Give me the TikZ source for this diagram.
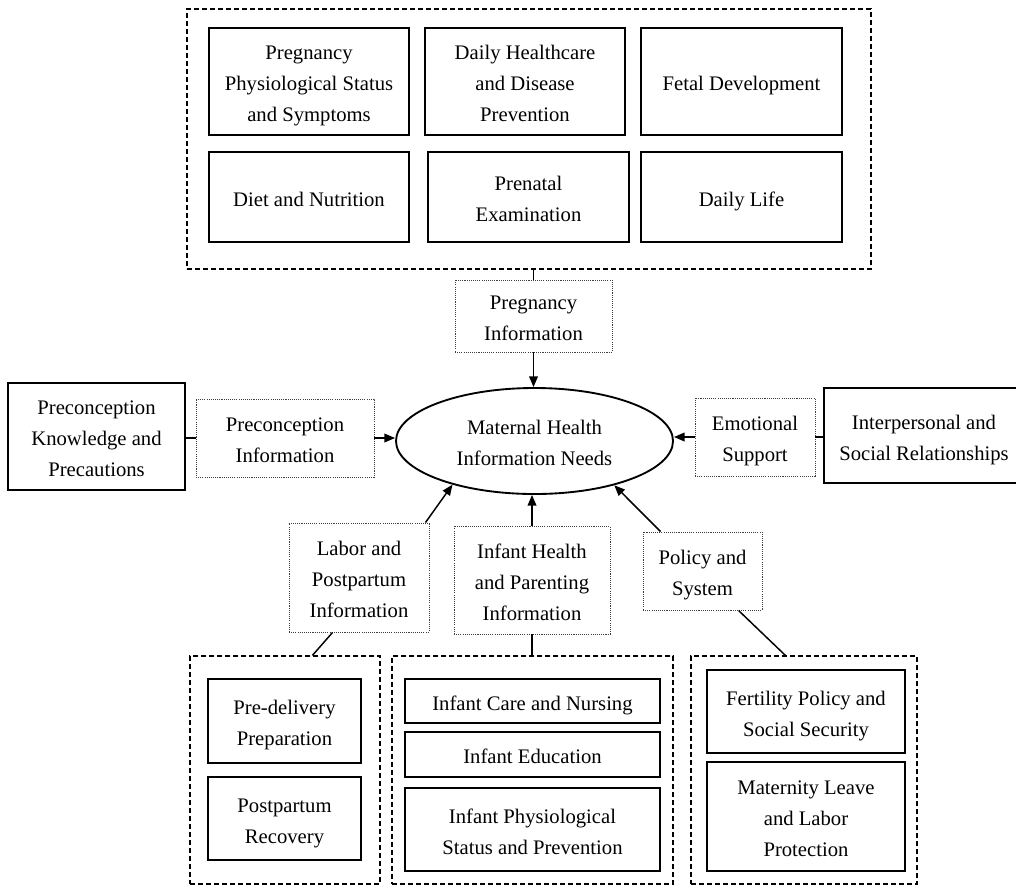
\documentclass[tikz,border=0pt]{standalone}
\usepackage{fontspec}
\setmainfont{Liberation Serif}
\usetikzlibrary{shapes.geometric,arrows.meta,calc}
\newcommand{\fs}{\rule{0pt}{1.15em}}
\begin{document}
\begin{tikzpicture}[x=0.75pt,y=-0.75pt,
  every node/.style={font=\fontsize{15.5pt}{23.25pt}\selectfont, align=center, inner sep=0pt,
    execute at begin node={\rule{0pt}{1.15em}},
    execute at end node={\rule[-0.25em]{0pt}{0.25em}}},
  sz/.style 2 args={minimum width=#1*0.75pt, minimum height=#2*0.75pt},
  solidbox/.style={draw, line width=1.1pt},
  grpbox/.style={draw, line width=0.9pt, dash pattern=on 4pt off 2pt},
  infobox/.style={draw=black!75, line width=0.7pt, dash pattern=on 0.8pt off 0.8pt},
  link/.style={line width=1.1pt},
  arr/.style={line width=1.1pt, -{Triangle[length=8pt,width=6.5pt]}}]
\useasboundingbox (0,0) rectangle (1016,886);

% top group
\node[grpbox, sz={684}{260}] (gtop) at (529,139) {};
\node[solidbox, sz={200}{107}] (b1) at (309,81.5) {\fs Pregnancy\\Physiological Status\\and Symptoms};
\node[solidbox, sz={200}{107}] (b2) at (525,81.5) {\fs Daily Healthcare\\and Disease\\Prevention};
\node[solidbox, sz={201}{107}] (b3) at (741.5,81.5) {Fetal Development};
\node[solidbox, sz={200}{90}] (b4) at (309,197) {Diet and Nutrition};
\node[solidbox, sz={201}{90}] (b5) at (528.5,197) {\fs Prenatal\\Examination};
\node[solidbox, sz={201}{90}] (b6) at (741.5,197) {Daily Life};

% centre
\node[infobox, sz={157}{72}] (pinf) at (533.5,316) {\fs Pregnancy\\Information};
\node[draw, ellipse, line width=1.4pt, sz={277}{106}] (mh) at (534.5,441) {\fs Maternal Health\\Information Needs};

% left / right
\node[solidbox, sz={177}{107}] (pk) at (96.5,436.5) {\fs Preconception\\Knowledge and\\Precautions};
\node[infobox, sz={178}{78}] (pci) at (285,438) {\fs Preconception\\Information};
\node[infobox, sz={120}{78}] (es) at (755,437) {\fs Emotional\\Support};
\node[solidbox, sz={200}{95}] (ir) at (924,435.5) {\fs Interpersonal and\\Social Relationships};

% lower info
\node[infobox, sz={140}{109}] (lp) at (359,577.5) {\fs Labor and\\Postpartum\\Information};
\node[infobox, sz={156}{108}] (ih) at (532,580) {\fs Infant Health\\and Parenting\\Information};
\node[infobox, sz={119}{78}] (ps) at (702.5,571) {\fs Policy and\\System};

% bottom groups
\node[grpbox, sz={190}{228}] (gl) at (285,770) {};
\node[grpbox, sz={281}{228}] (gm) at (532.5,770) {};
\node[grpbox, sz={226}{228}] (gr) at (804,770) {};
\node[solidbox, sz={153}{84}] (pd) at (284.5,721) {\fs Pre-delivery\\Preparation};
\node[solidbox, sz={153}{83}] (pr) at (284.5,818.5) {\fs Postpartum\\Recovery};
\node[solidbox, sz={255}{44}] (ic) at (532.5,701) {Infant Care and Nursing};
\node[solidbox, sz={255}{45}] (ie) at (532.5,754.5) {Infant Education};
\node[solidbox, sz={255}{83}] (ip) at (532.5,829.5) {\fs Infant Physiological\\Status and Prevention};
\node[solidbox, sz={198}{83}] (fp) at (806,711.5) {\fs Fertility Policy and\\Social Security};
\node[solidbox, sz={198}{109}] (ml) at (806,816.5) {\fs Maternity Leave\\and Labor\\Protection};

% connectors
\draw[link] (pinf.north |- gtop.south) -- (pinf.north);
\draw[arr] (pinf.south) -- (pinf.south |- mh.north);
\draw[link] (pk.east |- pci.west) -- (pci.west);
\draw[arr] (pci.east) -- (pci.east -| mh.west);
\draw[link] (ir.west |- es.east) -- (es.east);
\draw[arr] (es.west) -- (es.west -| mh.east);
\coordinate (lpa) at ($(lp.north east)+(-4,0)$);
\draw[arr] (lpa) -- (mh.208);
\draw[arr] (ih.north) -- (ih.north |- mh.south);
\coordinate (psa) at ($(ps.north west)+(18,0)$);
\draw[arr] (psa) -- (mh.331);
\coordinate (lpb) at ($(lp.south west)+(44,0)$);
\coordinate (glt) at ($(gl.north west)+(123,0)$);
\draw[link] (lpb) -- (glt);
\draw[link] (ih.south) -- (ih.south |- gm.north);
\coordinate (psb) at ($(ps.south west)+(96,0)$);
\coordinate (grt) at ($(gr.north west)+(95,0)$);
\draw[link] (psb) -- (grt);
\end{tikzpicture}
\end{document}
